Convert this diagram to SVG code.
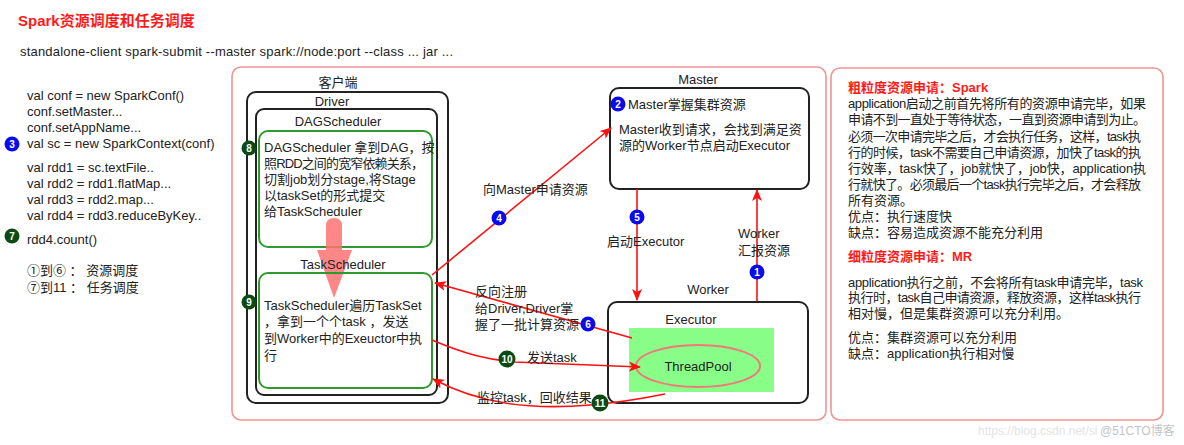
<svg xmlns="http://www.w3.org/2000/svg" width="1184" height="445" viewBox="0 0 1184 445">
<defs>
<style>
.t{font-family:"Liberation Sans","Noto Sans CJK SC",sans-serif;font-size:13px;fill:#222}
.c{text-anchor:middle}
.h{font-family:"Liberation Sans","Noto Sans CJK SC",sans-serif;font-weight:bold;fill:#ff1a1a}
.box{fill:#fff;stroke:#222;stroke-width:2}
.gbox{fill:#fff;stroke:#2e9a2e;stroke-width:2}
.pink{fill:#fff;stroke:#f49393;stroke-width:1.6}
.ln{fill:none;stroke:#ff1010;stroke-width:1.6}
.nb{fill:#0a0aee}
.ng{fill:#0b4a12}
.nt{font-family:"Liberation Sans",sans-serif;font-size:10px;font-weight:bold;fill:#fff;text-anchor:middle}
</style>
<marker id="ah" viewBox="0 0 12 10" refX="11" refY="5" markerWidth="12" markerHeight="10" markerUnits="userSpaceOnUse" orient="auto">
<path d="M0,0 L12,5 L0,10 L3,5 Z" fill="#ff1010"/>
</marker>
</defs>
<rect width="1184" height="445" fill="#fff"/>

<g id="header">
<text class="h" x="18" y="26" font-size="15">Spark资源调度和任务调度</text>
<text class="t" x="20" y="56" textLength="433" lengthAdjust="spacing">standalone-client  spark-submit --master spark://node:port --class ... jar ...</text>
</g>

<g id="code">
<text class="t" x="27" y="100">val conf = new SparkConf()</text>
<text class="t" x="27" y="116">conf.setMaster...</text>
<text class="t" x="27" y="132">conf.setAppName...</text>
<text class="t" x="27" y="148">val sc = new SparkContext(conf)</text>
<text class="t" x="27" y="172">val rdd1 = sc.textFile..</text>
<text class="t" x="27" y="188">val rdd2 = rdd1.flatMap...</text>
<text class="t" x="27" y="204">val rdd3 = rdd2.map...</text>
<text class="t" x="27" y="220">val rdd4 = rdd3.reduceByKey..</text>
<text class="t" x="27" y="244">rdd4.count()</text>
<text class="t" x="27" y="275" font-size="12">①到⑥ ： 资源调度</text>
<text class="t" x="27" y="292" font-size="12">⑦到11 ： 任务调度</text>
<circle class="nb" cx="12" cy="144" r="7.5"/><text class="nt" x="12" y="147.5">3</text>
<circle class="ng" cx="12" cy="236" r="7.5"/><text class="nt" x="12" y="239.5">7</text>
</g>

<g id="cluster">
<rect class="pink" x="232" y="67" width="594" height="353" rx="9"/>
<text class="t c" x="338" y="87">客户端</text>
</g>

<g id="driver">
<rect class="box" x="247" y="92" width="201" height="311" rx="9"/>
<text class="t c" x="332" y="106" font-size="14">Driver</text>
</g>

<g id="dagscheduler">
<rect class="box" x="256" y="109" width="181" height="286" rx="8"/>
<text class="t c" x="338" y="126" font-size="14">DAGScheduler</text>
</g>

<g id="dag-box">
<rect class="gbox" x="259" y="131" width="173" height="116" rx="9"/>
<text class="t" x="264" y="152">DAGScheduler 拿到DAG，按</text>
<text class="t" x="264" y="168" textLength="160" lengthAdjust="spacing">照RDD之间的宽窄依赖关系，</text>
<text class="t" x="264" y="184">切割job划分stage,将Stage</text>
<text class="t" x="264" y="200">以taskSet的形式提交</text>
<text class="t" x="264" y="216">给TaskScheduler</text>
<circle class="ng" cx="249" cy="148" r="7.5"/><text class="nt" x="249" y="151.5">8</text>
</g>

<g id="submit-arrow">
<path d="M326,226 Q326,218 334,218 Q342,218 342,226 L342,250 L352,250 L334,298 L317,250 L326,250 Z" fill="#ff7272" fill-opacity="0.85"/>
</g>

<g id="taskscheduler">
<rect class="gbox" x="259" y="273" width="173" height="115" rx="9" fill="none" style="fill:none"/>
<text class="t c" x="343" y="269" font-size="14">TaskScheduler</text>
<text class="t" x="264" y="310">TaskScheduler遍历TaskSet</text>
<text class="t" x="264" y="326">，拿到一个个task ，发送</text>
<text class="t" x="264" y="343">到Worker中的Exeuctor中执</text>
<text class="t" x="264" y="360">行</text>
<circle class="ng" cx="249" cy="302" r="7.5"/><text class="nt" x="249" y="305.5">9</text>
</g>

<g id="master">
<text class="t c" x="698" y="84" font-size="14">Master</text>
<rect class="box" x="610" y="88" width="199" height="101" rx="9"/>
<circle class="nb" cx="618" cy="104" r="7.5"/><text class="nt" x="618" y="107.5">2</text>
<text class="t" x="628" y="109">Master掌握集群资源</text>
<text class="t" x="619" y="134">Master收到请求，会找到满足资</text>
<text class="t" x="619" y="150">源的Worker节点启动Executor</text>
</g>

<g id="worker">
<text class="t c" x="708" y="294" font-size="14">Worker</text>
<rect class="box" x="608" y="302" width="200" height="101" rx="9"/>
<text class="t c" x="691" y="324" font-size="14">Executor</text>
<rect x="629" y="328" width="145" height="64" fill="#88fd88"/>
<ellipse cx="698" cy="366" rx="62" ry="21" fill="#88fd88" stroke="#f07a7a" stroke-width="2"/>
<text class="t c" x="698" y="371">ThreadPool</text>
</g>

<g id="connectors">
<line class="ln" x1="432" y1="275" x2="611" y2="128" marker-end="url(#ah)"/>
<line class="ln" x1="637" y1="189" x2="637" y2="300" marker-end="url(#ah)"/>
<line class="ln" x1="757" y1="301" x2="757" y2="190" marker-end="url(#ah)"/>
<line class="ln" x1="632" y1="338" x2="435" y2="283" marker-end="url(#ah)"/>
<path class="ln" d="M432,340 C465,354 488,360 515,362 L640,367" marker-end="url(#ah)"/>
<path class="ln" d="M665,394 C640,399 615,403 590,405 C530,410 480,404 433,379" marker-end="url(#ah)"/>
<text class="t" x="483" y="194">向Master申请资源</text>
<circle class="nb" cx="499" cy="218" r="7.5"/><text class="nt" x="499" y="221.5">4</text>
<circle class="nb" cx="637" cy="217" r="7.5"/><text class="nt" x="637" y="220.5">5</text>
<text class="t" x="607" y="246">启动Executor</text>
<text class="t" x="738" y="238">Worker</text>
<text class="t" x="738" y="255">汇报资源</text>
<circle class="nb" cx="757" cy="272" r="7.5"/><text class="nt" x="757" y="275.5">1</text>
<text class="t" x="475" y="296">反向注册</text>
<text class="t" x="475" y="313">给Driver,Driver掌</text>
<text class="t" x="475" y="329">握了一批计算资源</text>
<circle class="nb" cx="588" cy="324" r="7.5"/><text class="nt" x="588" y="327.5">6</text>
<circle class="ng" cx="507" cy="359" r="8.5"/><text class="nt" x="507" y="362.5" font-size="8">10</text>
<text class="t" x="527" y="362">发送task</text>
<circle class="ng" cx="600" cy="403" r="8.5"/><text class="nt" x="600" y="406.5" font-size="8">11</text>
<text class="t" x="477" y="402">监控task，回收结果</text>
</g>

<g id="notes">
<rect class="pink" x="831" y="68" width="332" height="352" rx="9"/>
<text class="h" x="848" y="92" font-size="13">粗粒度资源申请：Spark</text>
<text class="t" x="848" y="108" textLength="298" lengthAdjust="spacing">application启动之前首先将所有的资源申请完毕，如果</text>
<text class="t" x="848" y="124" textLength="298" lengthAdjust="spacing">申请不到一直处于等待状态，一直到资源申请到为止。</text>
<text class="t" x="848" y="141" textLength="293" lengthAdjust="spacing">必须一次申请完毕之后，才会执行任务，这样，task执</text>
<text class="t" x="848" y="157" textLength="293" lengthAdjust="spacing">行的时候，task不需要自己申请资源，加快了task的执</text>
<text class="t" x="848" y="173" textLength="298" lengthAdjust="spacing">行效率，task快了，job就快了，job快，application执</text>
<text class="t" x="848" y="189" textLength="293" lengthAdjust="spacing">行就快了。必须最后一个task执行完毕之后，才会释放</text>
<text class="t" x="848" y="205">所有资源。</text>
<text class="t" x="848" y="221">优点：执行速度快</text>
<text class="t" x="848" y="237">缺点：容易造成资源不能充分利用</text>
<text class="h" x="848" y="261" font-size="13">细粒度资源申请：MR</text>
<text class="t" x="848" y="287" textLength="295" lengthAdjust="spacing">application执行之前，不会将所有task申请完毕，task</text>
<text class="t" x="848" y="302" textLength="293" lengthAdjust="spacing">执行时，task自己申请资源，释放资源，这样task执行</text>
<text class="t" x="848" y="318">相对慢，但是集群资源可以充分利用。</text>
<text class="t" x="848" y="342">优点：集群资源可以充分利用</text>
<text class="t" x="848" y="358">缺点：application执行相对慢</text>
</g>

<g id="watermark">
<text x="978" y="435" font-family="Liberation Sans,sans-serif" font-size="12" fill="#e4e4e4">https://blog.csdn.net/si</text>
<text x="1100" y="435" font-family="Liberation Sans,Noto Sans CJK SC,sans-serif" font-size="12" fill="#c4c4c4">@51CTO博客</text>
</g>
</svg>
